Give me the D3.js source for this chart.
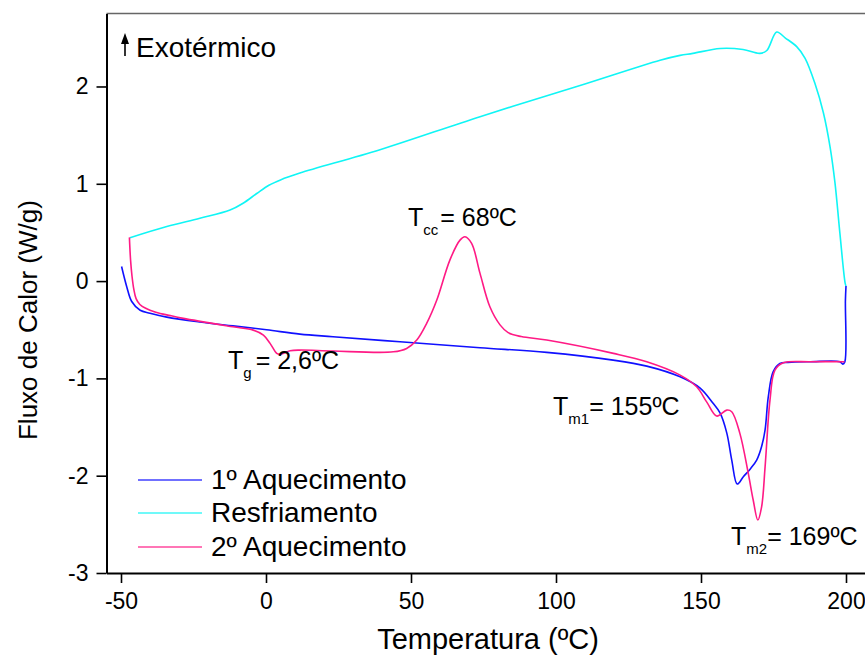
<!DOCTYPE html>
<html>
<head>
<meta charset="utf-8">
<script src="https://cdn.jsdelivr.net/npm/d3@7"></script>
<style>
  html, body { margin: 0; padding: 0; background: #fff; }
  svg { display: block; font-family: Arial, "Liberation Sans", sans-serif; }
</style>
</head>
<body>
<svg id="chart" width="865" height="657"></svg>
<script>
// ---- Data ----
const seriesNames = ["1º Aquecimento", "Resfriamento", "2º Aquecimento"];
const seriesColors = ["#1010ff", "#10f5f5", "#ff1a85"];

const tempAq1 = [-49.8, -48.0, -46.3, -43.4, -40.0, -34.2, -22.8, -11.4, 0.2, 11.7, 23.1, 46.2, 73.8, 96.8, 119.7, 131.3, 142.8, 149.7, 154.1, 156.6, 158.9, 160.6, 162.5, 164.6, 167.0, 169.2, 170.9, 172.1, 173.2, 174.9, 177.2, 180.0, 187.6, 197.9, 198.9, 199.6, 199.8, 200.0];
const fluxAq1 = [0.15, -0.06, -0.21, -0.30, -0.33, -0.37, -0.42, -0.46, -0.50, -0.545, -0.572, -0.624, -0.685, -0.733, -0.812, -0.874, -0.984, -1.10, -1.254, -1.357, -1.562, -1.84, -2.086, -2.011, -1.93, -1.84, -1.70, -1.53, -1.19, -0.93, -0.846, -0.835, -0.829, -0.829, -0.853, -0.83, -0.20, -0.05];

const tempResf = [-46.9, -34.2, -22.8, -12.4, -7.9, -3.2, 1.0, 5.0, 11.7, 39.3, 73.8, 108.3, 135.9, 142.8, 147.2, 156.6, 164.5, 170.3, 172.7, 176.1, 179.0, 183.0, 185.9, 189.3, 192.2, 194.5, 196.2, 197.9, 199.7, 200.0];
const fluxResf = [0.445, 0.56, 0.645, 0.73, 0.80, 0.90, 0.985, 1.04, 1.11, 1.35, 1.69, 2.01, 2.27, 2.32, 2.34, 2.39, 2.38, 2.34, 2.37, 2.56, 2.50, 2.41, 2.29, 2.03, 1.73, 1.38, 1.01, 0.49, -0.02, -0.05];

const tempAq2 = [-47.1, -46.7, -46.2, -45.6, -44.8, -43.5, -41.5, -38.0, -33.0, -28.5, -11.4, -4.4, -0.9, 1.4, 3.7, 4.8, 8.3, 11.7, 23.1, 43.9, 48.5, 52.0, 55.4, 58.9, 63.4, 66.9, 68.6, 70.9, 73.8, 77.2, 80.7, 83.5, 88.0, 96.8, 119.8, 131.3, 142.8, 148.5, 152.0, 155.4, 158.9, 160.6, 163.4, 166.3, 168.0, 169.6, 170.9, 172.1, 173.8, 175.5, 178.4, 187.6, 199.5];
const fluxAq2 = [0.449, 0.216, 0.05, -0.08, -0.18, -0.24, -0.28, -0.32, -0.355, -0.383, -0.470, -0.504, -0.555, -0.640, -0.743, -0.753, -0.716, -0.709, -0.719, -0.727, -0.692, -0.606, -0.435, -0.195, 0.216, 0.421, 0.455, 0.387, 0.079, -0.264, -0.45, -0.53, -0.57, -0.606, -0.743, -0.829, -0.966, -1.086, -1.244, -1.387, -1.326, -1.343, -1.565, -1.976, -2.25, -2.456, -2.32, -1.91, -1.22, -0.915, -0.84, -0.829, -0.829];

const xMajorTicks = [-50, 0, 50, 100, 150, 200];
const xMinorTicks = [-25, 25, 75, 125, 175];
const yMajorTicks = [-3, -2, -1, 0, 1, 2];
const yMinorTicks = [-2.5, -1.5, -0.5, 0.5, 1.5, 2.5];

const xTitle = "Temperatura (ºC)";
const yTitle = "Fluxo de Calor (W/g)";
const exoLabel = "Exotérmico";
const annotations = [
  { main: "T", sub: "g", rest: "= 2,6ºC", gap: 4, x: 228, y: 369 },
  { main: "T", sub: "cc", rest: "= 68ºC", gap: 2, x: 408, y: 226 },
  { main: "T", sub: "m1", rest: "= 155ºC", gap: 0, x: 553, y: 415 },
  { main: "T", sub: "m2", rest: "= 169ºC", gap: 0, x: 731, y: 545 }
];

// ---- Layout ----
const svg = d3.select("#chart");
const x = d3.scaleLinear().domain([-55, 210]).range([106.5, 875]);
const y = d3.scaleLinear().domain([-3, 2.75]).range([573, 13.5]);
const fmt = d => String(d);

// top border
svg.append("line")
  .attr("x1", x(-55)).attr("x2", x(210))
  .attr("y1", y(2.75)).attr("y2", y(2.75))
  .attr("stroke", "#666").attr("stroke-width", 1.5);

// X axis
const gx = svg.append("g").attr("transform", `translate(0,${y(-3)})`);
gx.call(d3.axisBottom(x).tickValues(xMinorTicks).tickSize(6).tickFormat(""))
  .call(g => g.select(".domain").remove());
gx.call(d3.axisBottom(x).tickValues(xMajorTicks).tickSize(10).tickSizeOuter(0).tickPadding(10).tickFormat(fmt));
gx.selectAll(".tick line").attr("stroke", "#000").attr("stroke-width", 1.6);
gx.select(".domain").attr("stroke", "#000").attr("stroke-width", 2);
gx.selectAll(".tick text").attr("font-size", 23).attr("fill", "#000")
  .attr("font-family", "Arial, 'Liberation Sans', sans-serif");

// Y axis
const gy = svg.append("g").attr("transform", `translate(${x(-55)},0)`);
gy.call(d3.axisLeft(y).tickValues(yMinorTicks).tickSize(6).tickFormat(""))
  .call(g => g.select(".domain").remove());
gy.call(d3.axisLeft(y).tickValues(yMajorTicks).tickSize(10).tickSizeOuter(0).tickPadding(8).tickFormat(fmt));
gy.selectAll(".tick line").attr("stroke", "#000").attr("stroke-width", 1.6);
gy.select(".domain").attr("stroke", "#000").attr("stroke-width", 2);
gy.selectAll(".tick text").attr("font-size", 23).attr("fill", "#000")
  .attr("font-family", "Arial, 'Liberation Sans', sans-serif");

// Axis titles
svg.append("text")
  .attr("x", 488).attr("y", 649)
  .attr("text-anchor", "middle").attr("font-size", 29).attr("fill", "#000")
  .text(xTitle);
svg.append("text")
  .attr("transform", `translate(37,${y(0) + 39}) rotate(-90)`)
  .attr("text-anchor", "middle").attr("font-size", 26).attr("fill", "#000")
  .text(yTitle);

// Series
const series = [
  { t: tempAq1, f: fluxAq1, color: seriesColors[0] },
  { t: tempResf, f: fluxResf, color: seriesColors[1] },
  { t: tempAq2, f: fluxAq2, color: seriesColors[2] }
];
const line = d3.line()
  .x(d => x(d[0])).y(d => y(d[1]))
  .curve(d3.curveCatmullRom.alpha(0.5));
[1, 0, 2].forEach(i => {
  const s = series[i];
  svg.append("path")
    .datum(s.t.map((t, k) => [t, s.f[k]]))
    .attr("fill", "none")
    .attr("stroke", s.color)
    .attr("stroke-width", 1.6)
    .attr("stroke-linejoin", "round")
    .attr("d", line);
});

// Exotérmico arrow + label
svg.append("line")
  .attr("x1", 125).attr("x2", 125).attr("y1", 40).attr("y2", 56)
  .attr("stroke", "#000").attr("stroke-width", 1.6);
svg.append("path")
  .attr("d", "M125,33 L121,44 L129,44 Z")
  .attr("fill", "#000");
svg.append("text")
  .attr("x", 136).attr("y", 57)
  .attr("font-size", 28).attr("fill", "#000")
  .text(exoLabel);

// Legend
const legendY = [480, 513, 547];
seriesNames.forEach((name, i) => {
  svg.append("line")
    .attr("x1", 138).attr("x2", 202)
    .attr("y1", legendY[i]).attr("y2", legendY[i])
    .attr("stroke", seriesColors[i]).attr("stroke-width", 2)
    .attr("stroke-opacity", 0.6);
  svg.append("text")
    .attr("x", 211).attr("y", legendY[i] + 9)
    .attr("font-size", 28).attr("fill", "#000")
    .text(name);
});

// Annotations
annotations.forEach(a => {
  const t = svg.append("text")
    .attr("x", a.x).attr("y", a.y)
    .attr("font-size", 25).attr("fill", "#000");
  t.append("tspan").text(a.main);
  t.append("tspan").attr("font-size", 15).attr("dy", 9).text(a.sub);
  t.append("tspan").attr("dy", -9).attr("dx", a.gap).text(a.rest);
});
</script>
</body>
</html>
